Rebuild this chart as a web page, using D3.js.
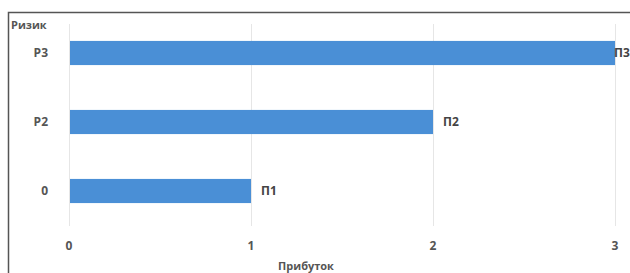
<!DOCTYPE html>
<html>
<head>
<meta charset="utf-8">
<script src="https://cdn.jsdelivr.net/npm/d3@7"></script>
<style>
  body { margin: 0; background: #fff; }
  text { font-family: "Open Sans", "DejaVu Sans", sans-serif; font-weight: 700; fill: #555; }
</style>
</head>
<body>
<div class="canvas"></div>
<script>
// risk categories (bottom to top) and profit values
const risks = ['0', 'P2', 'P3'];
const profits = [1, 2, 3];
const barLabels = ['П1', 'П2', 'П3'];
const xTicks = [0, 1, 2, 3];

const svg = d3.select('.canvas')
    .append('svg')
    .attr('width', 630)
    .attr('height', 273);

// frame around the chart
svg.append('path')
    .attr('d', 'M8.5,273 L8.5,12.5 L630,12.5')
    .attr('fill', 'none')
    .attr('stroke', '#555')
    .attr('stroke-width', 1.5);

const x = d3.scaleLinear().domain([0, 3]).range([69, 615]);
const y = d3.scaleBand()
    .domain(risks)
    .range([225.5, 18.5])
    .paddingInner(0.65)
    .paddingOuter(0.325);

// vertical gridlines
svg.append('g')
    .selectAll('line')
    .data(xTicks)
    .enter()
    .append('line')
    .attr('x1', d => x(d) + 0.5)
    .attr('x2', d => x(d) + 0.5)
    .attr('y1', 24)
    .attr('y2', 226)
    .attr('stroke', '#e6e6e6')
    .attr('stroke-width', 1);

const data = risks.map((r, i) => ({ risk: r, value: profits[i], label: barLabels[i] }));

svg.append('g')
    .selectAll('rect')
    .data(data)
    .enter()
    .append('rect')
    .attr('x', x(0) + 1)
    .attr('y', d => y(d.risk))
    .attr('width', d => x(d.value) - x(0) - 1)
    .attr('height', y.bandwidth())
    .attr('fill', '#4a8fd6');

svg.append('g')
    .selectAll('text')
    .data(data)
    .enter()
    .append('text')
    .attr('x', d => x(d.value) + (d.value === 3 ? -1 : 10))
    .attr('y', d => y(d.risk) + y.bandwidth() / 2)
    .attr('dy', '0.35em')
    .style('font-size', '12px')
    .style('fill', '#444')
    .text(d => d.label);

// y axis labels
svg.append('g')
    .selectAll('text')
    .data(risks)
    .enter()
    .append('text')
    .attr('x', 48)
    .attr('y', d => y(d) + y.bandwidth() / 2)
    .attr('dy', '0.35em')
    .attr('text-anchor', 'end')
    .style('font-size', '12px')
    .text(d => d);

// x axis labels
svg.append('g')
    .selectAll('text')
    .data(xTicks)
    .enter()
    .append('text')
    .attr('x', d => x(d))
    .attr('y', 246)
    .attr('dy', '0.35em')
    .attr('text-anchor', 'middle')
    .style('font-size', '12px')
    .text(d => d);

svg.append('text')
    .attr('x', 11)
    .attr('y', 25)
    .attr('dy', '0.35em')
    .style('font-size', '11px')
    .text('Ризик');

svg.append('text')
    .attr('x', 306)
    .attr('y', 266)
    .attr('dy', '0.35em')
    .attr('text-anchor', 'middle')
    .style('font-size', '11px')
    .text('Прибуток');
</script>
</body>
</html>
